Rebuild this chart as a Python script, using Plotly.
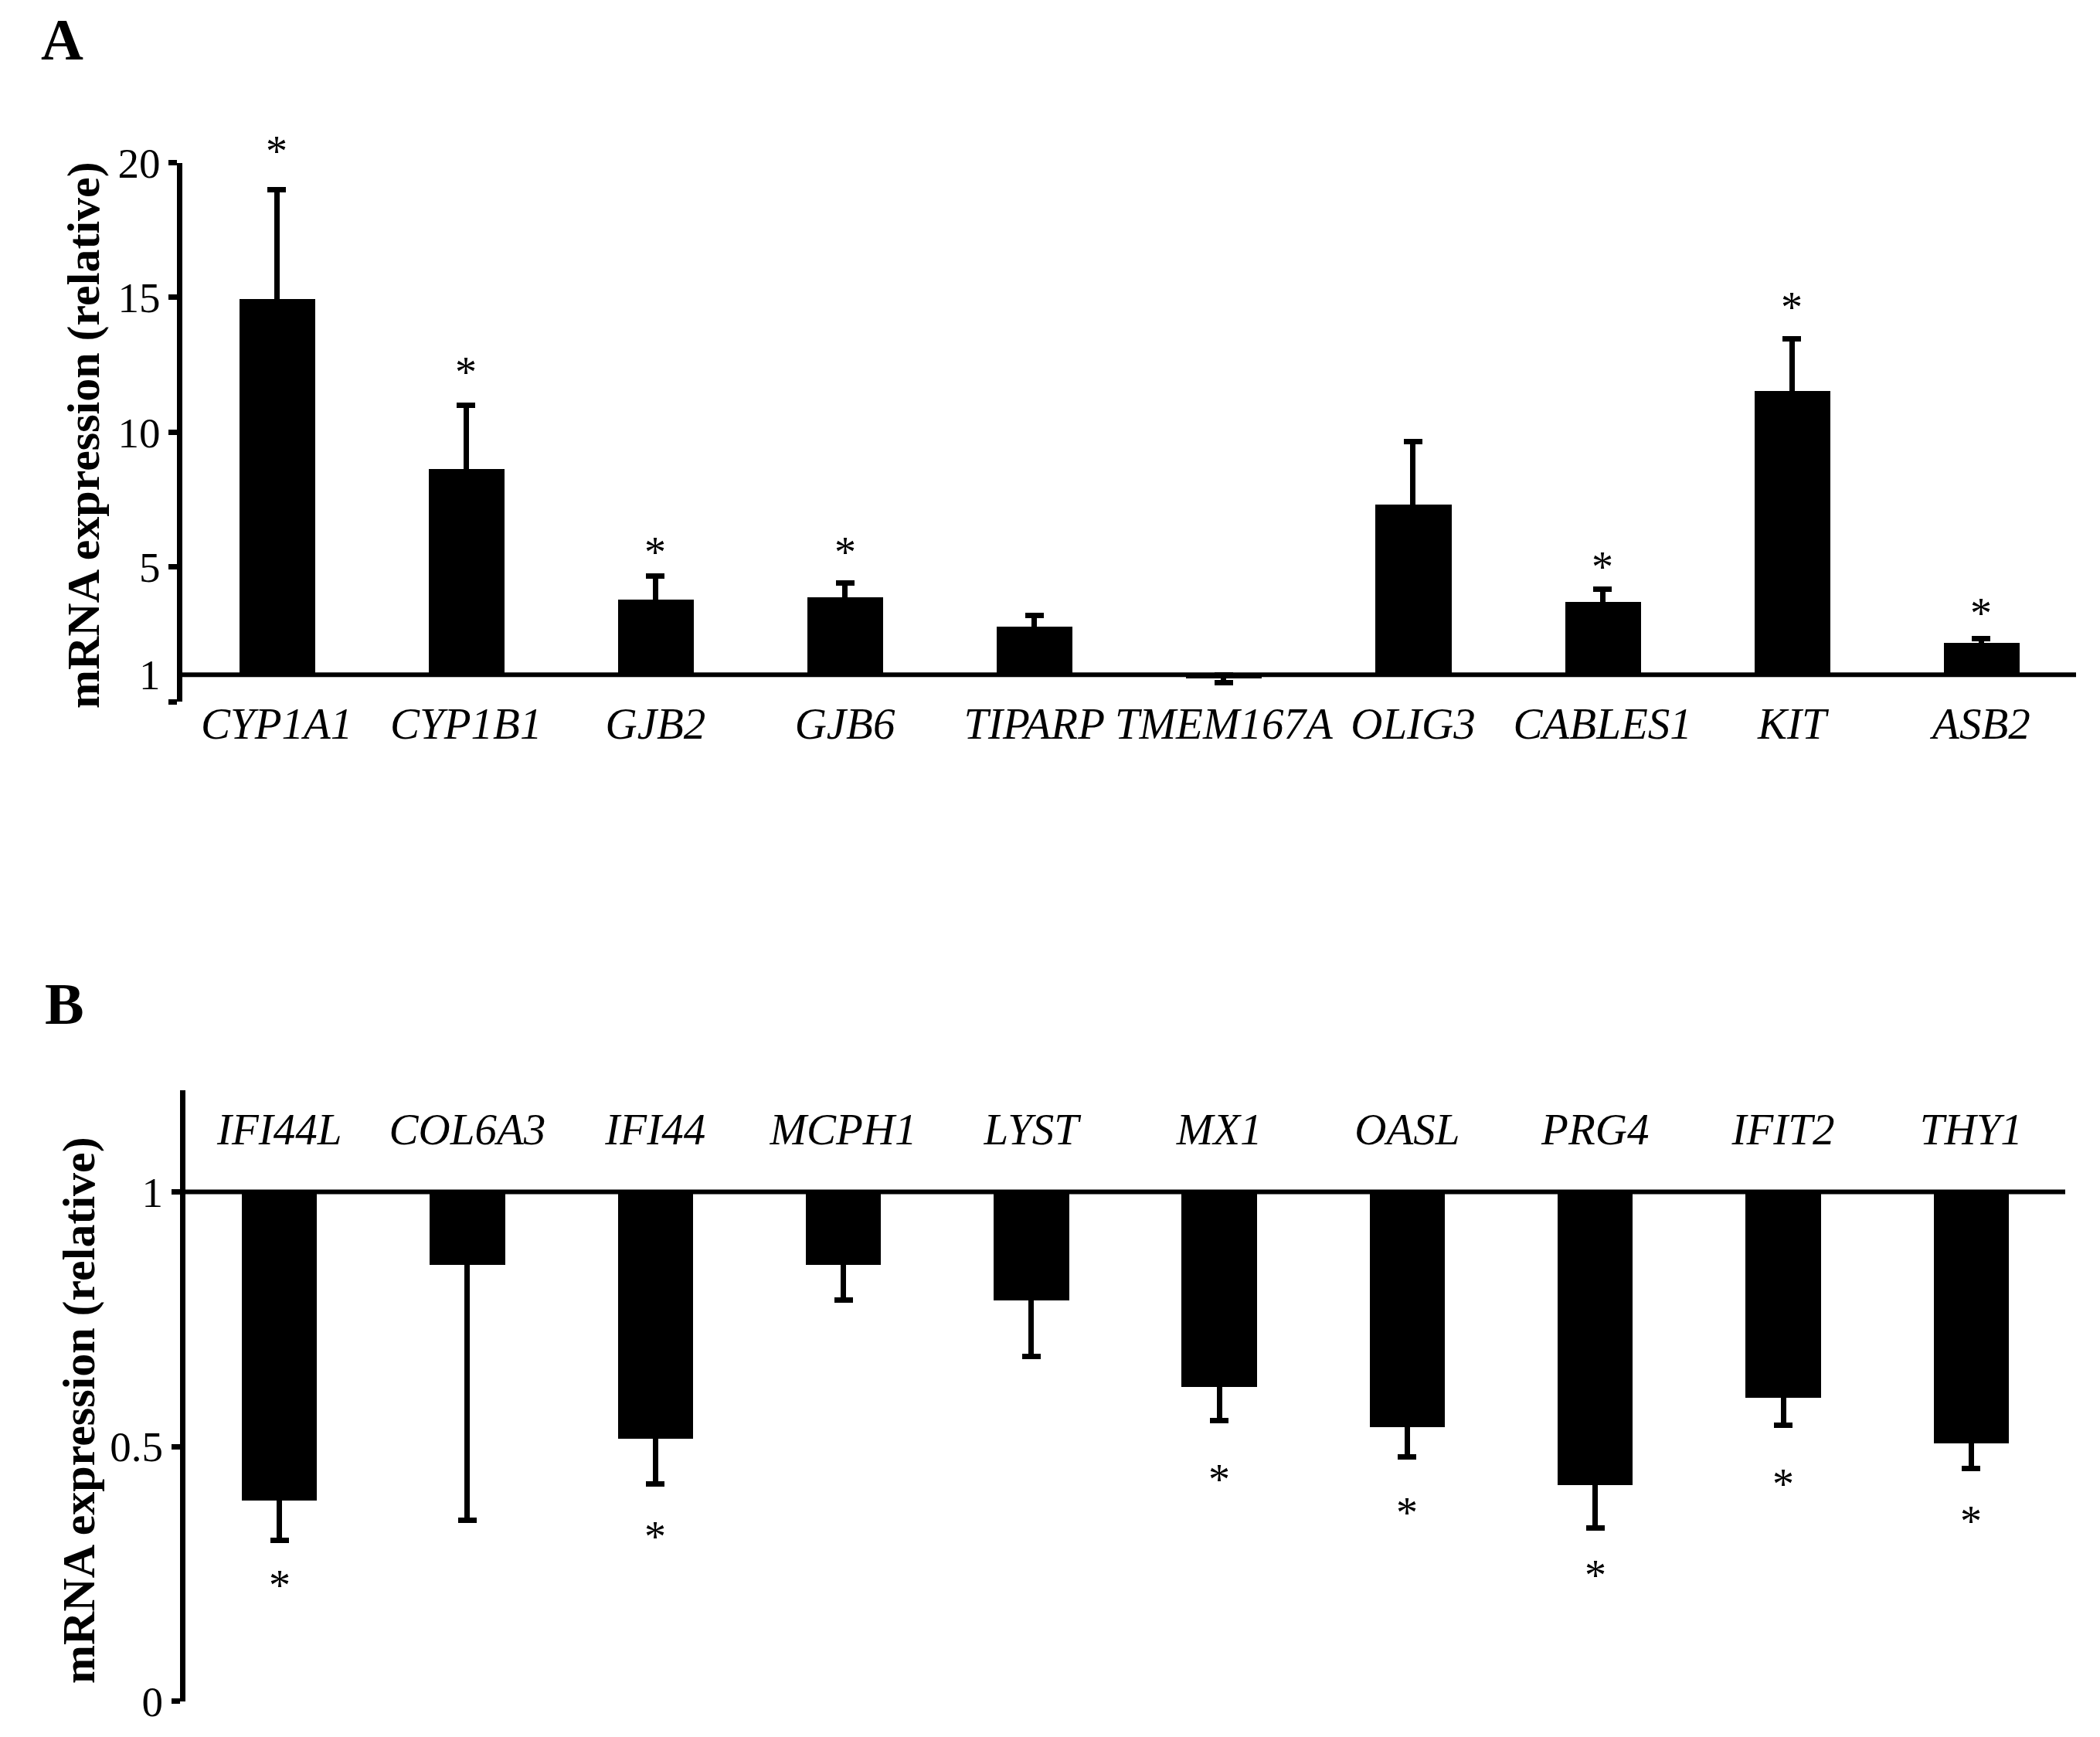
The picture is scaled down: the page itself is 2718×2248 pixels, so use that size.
import plotly.graph_objects as go

# ---------------- data ----------------
genes_a = ["CYP1A1", "CYP1B1", "GJB2", "GJB6", "TIPARP", "TMEM167A", "OLIG3", "CABLES1", "KIT", "ASB2"]
mean_a = [14.95, 8.65, 3.80, 3.88, 2.79, 0.87, 7.32, 3.72, 11.55, 2.19]
err_a = [4.04, 2.35, 0.85, 0.52, 0.40, 0.16, 2.33, 0.45, 1.90, 0.14]
sig_a = ["CYP1A1", "CYP1B1", "GJB2", "GJB6", "CABLES1", "KIT", "ASB2"]
sig_a_y = [20.6, 12.4, 5.7, 5.7, 5.15, 14.8, 3.45]

genes_b = ["IFI44L", "COL6A3", "IFI44", "MCPH1", "LYST", "MX1", "OASL", "PRG4", "IFIT2", "THY1"]
mean_b = [0.394, 0.857, 0.516, 0.857, 0.787, 0.617, 0.538, 0.425, 0.596, 0.506]
err_b = [0.078, 0.502, 0.090, 0.070, 0.110, 0.066, 0.058, 0.085, 0.054, 0.050]
sig_b = ["IFI44L", "IFI44", "MX1", "OASL", "PRG4", "IFIT2", "THY1"]
sig_b_y = [0.236, 0.331, 0.444, 0.378, 0.256, 0.435, 0.362]

ticks_a = [1, 5, 10, 15, 20]
ticks_b = [0, 0.5, 1]
range_a = [0, 20]
range_b = [0, 1.2]
y_title = "mRNA expression (relative)"

# ---------------- layout helpers ----------------
W, H = 2718, 2248
OFF = 8  # default page margin of the html body
SERIF = "Liberation Serif"


def px_x(p):
    return (p - OFF) / W


def px_y(p):
    return 1 - (p - OFF) / H


# plot-area pixel geometry
A_LEFT, A_RIGHT, A_BOTTOM, A_TOP = 235.5, 2687, 908, 210.5
B_LEFT, B_RIGHT, B_BOTTOM, B_TOP = 240, 2673, 2201.5, 1410.7
PPU_A = (A_BOTTOM - A_TOP) / (range_a[1] - range_a[0])

BASE = 1  # expression relative to control = 1
# the unused end of each one-sided error bar is tucked inside the bar
HIDE_A, HIDE_B = 0.2, 0.02
STAR_SHIFT = -6

fig = go.Figure()

# Panel A bars (from 1)
up_a, down_a = [], []
for m, e in zip(mean_a, err_a):
    tuck = min(HIDE_A, abs(m - BASE))
    if m >= BASE:
        up_a.append(e)
        down_a.append(tuck)
    else:
        up_a.append(tuck)
        down_a.append(e)

fig.add_trace(go.Bar(
    x=genes_a, y=[m - BASE for m in mean_a], base=BASE, width=0.4,
    marker=dict(color="black", line=dict(width=0)),
    error_y=dict(type="data", symmetric=False, array=up_a, arrayminus=down_a,
                 color="black", thickness=7, width=12),
    xaxis="x", yaxis="y", showlegend=False, hoverinfo="skip",
))

# Panel B bars (down from 1)
up_b = [min(HIDE_B, abs(m - BASE)) for m in mean_b]
fig.add_trace(go.Bar(
    x=genes_b, y=[m - BASE for m in mean_b], base=BASE, width=0.4,
    marker=dict(color="black", line=dict(width=0)),
    error_y=dict(type="data", symmetric=False, array=up_b, arrayminus=err_b,
                 color="black", thickness=7, width=12),
    xaxis="x2", yaxis="y2", showlegend=False, hoverinfo="skip",
))
fig.add_trace(go.Scatter(
    x=genes_b, y=[1.115] * len(genes_b), mode="text", text=genes_b,
    textfont=dict(family=SERIF, size=57, color="black", style="italic"),
    cliponaxis=False, xaxis="x2", yaxis="y2", showlegend=False, hoverinfo="skip",
))

title_font = dict(family=SERIF, size=60, color="black", weight="bold")
tick_font = dict(family=SERIF, size=55, color="black")
star_font = dict(family=SERIF, size=56, color="black")

annotations = []
for g, yv in zip(sig_a, sig_a_y):
    # annotations outside the axis range are hidden, so pin to the top and shift
    ypos = min(yv, range_a[1])
    extra = (yv - ypos) * PPU_A
    annotations.append(dict(x=g, y=ypos, xref="x", yref="y", text="*", showarrow=False,
                            xanchor="center", yanchor="middle", yshift=STAR_SHIFT + extra,
                            font=star_font))
for g, yv in zip(sig_b, sig_b_y):
    annotations.append(dict(x=g, y=yv, xref="x2", yref="y2", text="*", showarrow=False,
                            xanchor="center", yanchor="middle", yshift=STAR_SHIFT,
                            font=star_font))
annotations += [
    dict(text="<b>A</b>", xref="paper", yref="paper", x=px_x(80), y=px_y(51),
         xanchor="center", yanchor="middle", showarrow=False,
         font=dict(family=SERIF, size=76, color="black")),
    dict(text="<b>B</b>", xref="paper", yref="paper", x=px_x(83), y=px_y(1299),
         xanchor="center", yanchor="middle", showarrow=False,
         font=dict(family=SERIF, size=76, color="black")),
    dict(text=y_title, xref="paper", yref="paper", x=px_x(108), y=px_y(563),
         xanchor="center", yanchor="middle", textangle=-90, showarrow=False,
         font=title_font),
    dict(text=y_title, xref="paper", yref="paper", x=px_x(102), y=px_y(1825),
         xanchor="center", yanchor="middle", textangle=-90, showarrow=False,
         font=title_font),
]

fig.update_layout(
    template="none",
    width=W, height=H,
    margin=dict(l=0, r=0, t=0, b=0, autoexpand=False),
    paper_bgcolor="white", plot_bgcolor="white",
    bargap=0, barmode="overlay",
    showlegend=False,
    xaxis=dict(
        domain=[px_x(A_LEFT), px_x(A_RIGHT)], anchor="y", automargin=False,
        type="category", categoryorder="array", categoryarray=genes_a,
        range=[-0.5, 9.5], showline=False, showgrid=False, zeroline=False,
        ticks="", tickfont=dict(family=SERIF, size=57, color="black", style="italic"),
        ticklabelstandoff=-10,
    ),
    yaxis=dict(
        domain=[px_y(A_BOTTOM), px_y(A_TOP)], anchor="x", automargin=False,
        range=range_a, showgrid=False, zeroline=False,
        showline=True, linecolor="black", linewidth=7,
        tickmode="array", tickvals=ticks_a, ticktext=[str(t) for t in ticks_a],
        ticks="", tickfont=tick_font, ticklabelstandoff=10,
        minor=dict(tickmode="array", tickvals=[0, 5, 10, 15, 20], ticks="outside",
                   ticklen=11, tickwidth=7, tickcolor="black", showgrid=False),
    ),
    xaxis2=dict(
        domain=[px_x(B_LEFT), px_x(B_RIGHT)], anchor="y2", automargin=False,
        type="category", categoryorder="array", categoryarray=genes_b,
        range=[-0.5, 9.5], showline=False, showgrid=False, zeroline=False,
        showticklabels=False, ticks="",
    ),
    yaxis2=dict(
        domain=[px_y(B_BOTTOM), px_y(B_TOP)], anchor="x2", automargin=False,
        range=range_b, showgrid=False, zeroline=False,
        showline=True, linecolor="black", linewidth=7,
        tickmode="array", tickvals=ticks_b, ticktext=["0", "0.5", "1"],
        ticks="outside", ticklen=11, tickwidth=7, tickcolor="black",
        tickfont=tick_font,
    ),
    shapes=[
        dict(type="line", xref="x domain", yref="y", x0=0, x1=1, y0=BASE, y1=BASE,
             line=dict(color="black", width=6), layer="above"),
        dict(type="line", xref="x2 domain", yref="y2", x0=0, x1=1, y0=BASE, y1=BASE,
             line=dict(color="black", width=6), layer="above"),
    ],
    annotations=annotations,
)

fig.write_html("out.html")
